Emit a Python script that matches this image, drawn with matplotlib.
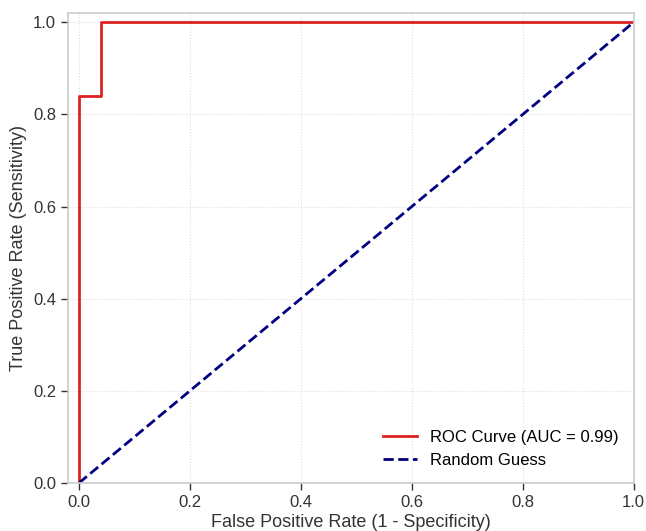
import numpy as np
import matplotlib.pyplot as plt

# ROC points
fpr = [0.0, 0.0, 0.04, 0.04, 1.0]
tpr = [0.0, 0.84, 0.84, 1.0, 1.0]
auc_value = 0.99
diag = [0.0, 1.0]

plt.rcParams['font.family'] = ['Liberation Sans', 'DejaVu Sans']

fig = plt.figure(figsize=(6.46, 5.31), dpi=100)
ax = fig.add_axes([0.105, 0.0904, 0.876, 0.8851])

ax.plot(fpr, tpr, color='#dd2222', lw=2, label=f'ROC Curve (AUC = {auc_value:.2f})')
ax.plot(diag, diag, color='navy', lw=2, ls='--', label='Random Guess')

ax.set_xlim(-0.02, 1.0)
ax.set_ylim(0.0, 1.02)
ax.set_xticks(np.arange(0, 1.01, 0.2))
ax.set_yticks(np.arange(0, 1.01, 0.2))
ax.tick_params(labelsize=12, colors='#333333', length=5, width=1)
ax.set_xlabel('False Positive Rate (1 - Specificity)', fontsize=13, color='#333333', labelpad=3)
ax.set_ylabel('True Positive Rate (Sensitivity)', fontsize=13, color='#333333')

ax.grid(True, ls=':', color='#dddddd', lw=0.8)
for s in ax.spines.values():
    s.set_color('#cccccc')
    s.set_linewidth(1.2)

ax.legend(loc='lower right', fontsize=12, frameon=False)

fig.savefig('out.png', dpi=100)
